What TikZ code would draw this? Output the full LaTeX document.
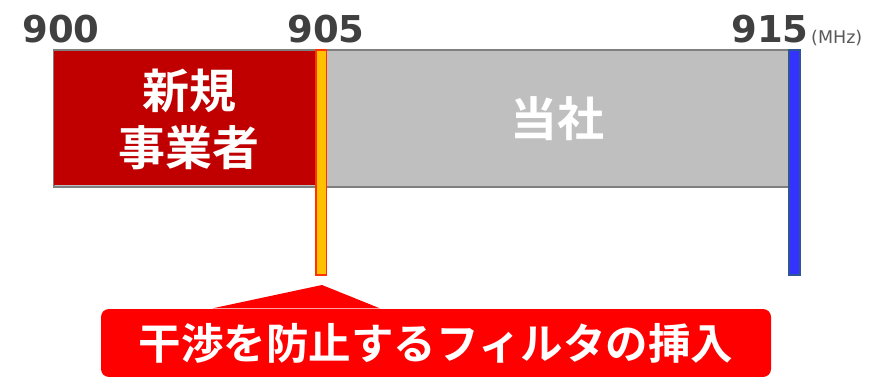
\documentclass[tikz,border=0pt]{standalone}
\usepackage{fontspec}
\setmainfont{DejaVu Sans}
\newfontfamily\cjkb{Noto Sans CJK JP Bold}
\newfontfamily\numfont{DejaVu Sans Bold}
\usetikzlibrary{calc}
\definecolor{bandred}{HTML}{C00000}
\definecolor{bandgray}{HTML}{BFBFBF}
\definecolor{bordergray}{HTML}{7F7F7F}
\definecolor{filterorange}{HTML}{FFC000}
\definecolor{filteredge}{HTML}{FF3300}
\definecolor{ownblue}{HTML}{3333FF}
\definecolor{ownblueedge}{HTML}{2F5597}
\definecolor{calloutred}{HTML}{FF0000}
\definecolor{numgray}{HTML}{404040}
\definecolor{unitgray}{HTML}{595959}
\tikzset{
  numlbl/.style={inner sep=0pt, text=numgray, font=\numfont\fontsize{37}{37}\selectfont},
  unitlbl/.style={inner sep=0pt, text=unitgray, font=\fontsize{17.5}{18}\selectfont, anchor=west},
  bandtext/.style={inner sep=0pt, text=white, align=center, font=\cjkb\fontsize{47}{57}\selectfont},
  marker/.style={inner sep=0pt, line width=1.6pt, minimum width=10.5pt, minimum height=225pt, anchor=north},
}
\begin{document}
\begin{tikzpicture}[x=1pt,y=-1pt]
\useasboundingbox (0,0) rectangle (876,377);
% band
\node[draw=bordergray, line width=2pt, fill=bandgray, inner sep=0pt, minimum width=738pt, minimum height=137pt, anchor=north west] (band) at (53,49.5) {};
\node[fill=bandred, inner sep=0pt, minimum width=262pt, minimum height=134.5pt, anchor=north west] (newco) at (54.2,50.7) {};
\node[bandtext] (newlbl) at (189,119.5) {新規\\事業者};
\node[bandtext] (ownlbl) at (557,119) {当社};
% markers
\node[marker, fill=filterorange, draw=filteredge] (filter) at (321.3,49) {};
\node[marker, fill=ownblue, draw=ownblueedge] (edge915) at (794.5,49) {};
% frequency labels
\node[numlbl] (l900) at (61,29) {900};
\node[numlbl] (l905) at (326,29) {905};
\node[numlbl] (l915) at (770,29) {915};
\node[unitlbl] (unit) at (811,38) {(MHz)};
% callout
\node[fill=calloutred, rounded corners=8pt, inner sep=0pt, minimum width=670pt, minimum height=68pt, text=white, font=\cjkb\fontsize{42.5}{43}\selectfont] (note) at (436,343) {干渉を防止するフィルタの挿入};
\coordinate (tip) at (322,285);
\fill[calloutred] ($(note.north west)+(112,-0.5)$) -- (tip) -- ($(note.north west)+(279,-0.5)$) -- cycle;
\end{tikzpicture}
\end{document}
